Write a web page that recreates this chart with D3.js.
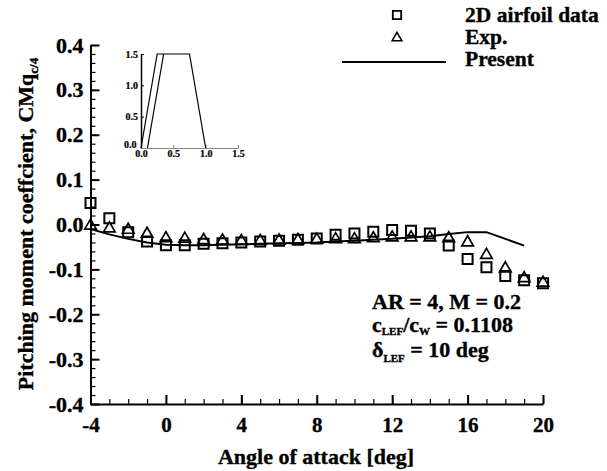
<!DOCTYPE html>
<html><head><meta charset="utf-8">
<script src="https://cdn.jsdelivr.net/npm/d3@7/dist/d3.min.js"></script>
<style>
html,body{margin:0;padding:0;background:#fff;}
text{font-family:"Liberation Serif","Times New Roman",serif;font-weight:bold;fill:#000;stroke:#000;stroke-width:0.35px;}
</style></head>
<body>
<svg id="c" width="607" height="471"></svg>
<script>
// ---- data ----
const alpha = [-4,-3,-2,-1,0,1,2,3,4,5,6,7,8,9,10,11,12,13,14,15,16,17,18,19,20];
const airfoil2D = [0.048,0.014,-0.017,-0.038,-0.046,-0.046,-0.043,-0.042,-0.040,-0.038,-0.036,-0.034,-0.031,-0.023,-0.020,-0.016,-0.012,-0.014,-0.020,-0.047,-0.077,-0.095,-0.115,-0.124,-0.131];
const expData = [-0.003,-0.009,-0.012,-0.021,-0.031,-0.032,-0.035,-0.036,-0.037,-0.037,-0.036,-0.035,-0.034,-0.033,-0.033,-0.031,-0.029,-0.029,-0.029,-0.031,-0.040,-0.068,-0.098,-0.120,-0.130];
const presentAlpha = [-4,-3,-2,-1,0,1,2,3,4,5,6,7,8,9,10,11,12,13,14,15,16,17,19];
const present = [-0.010,-0.022,-0.032,-0.040,-0.045,-0.046,-0.046,-0.045,-0.044,-0.043,-0.042,-0.041,-0.040,-0.038,-0.036,-0.034,-0.032,-0.029,-0.026,-0.021,-0.017,-0.017,-0.047];
const xTicks = [-4,0,4,8,12,16,20];
const yTicks = [-0.4,-0.3,-0.2,-0.1,0.0,0.1,0.2,0.3,0.4];
const insetX1 = [0,0.25,0.75,1.0];
const insetY1 = [0,1.5,1.5,0];
const insetX2 = [0.1,0.35];
const insetY2 = [0,1.5];
const insetTicks = [0,0.5,1.0,1.5];
const legendLabels = ["2D airfoil data","Exp.","Present"];

const svg = d3.select("#c");
const x = d3.scaleLinear().domain([-4,20]).range([90.5,543]);
const y = d3.scaleLinear().domain([-0.4,0.4]).range([404,45]);
const hy = f => (d => f(d).replace("\u2212","-"));

// minor ticks
svg.append("g").attr("transform","translate(0,404)")
  .call(d3.axisBottom(x).tickValues(d3.range(-4,21,1)).tickSize(-5).tickFormat(""))
  .call(g=>{g.select(".domain").remove(); g.selectAll("line").attr("stroke-width",1.2);});
svg.append("g").attr("transform","translate(90.5,0)")
  .call(d3.axisLeft(y).tickValues(d3.range(-20,21,1).map(v=>v*0.02)).tickSize(-5).tickFormat(""))
  .call(g=>{g.select(".domain").remove(); g.selectAll("line").attr("stroke-width",1.2);});

// major axes
const xa = svg.append("g").attr("transform","translate(0,404)")
  .call(d3.axisBottom(x).tickValues(xTicks).tickSize(-9).tickPadding(12).tickSizeOuter(0).tickFormat(hy(d3.format("d"))));
xa.select(".domain").attr("stroke-width",2);
xa.selectAll("line").attr("stroke-width",2);
xa.selectAll("text").attr("font-size",21).attr("dy","0.75em").style("font-family","Liberation Serif").style("font-weight","bold");

const ya = svg.append("g").attr("transform","translate(90.5,0)")
  .call(d3.axisLeft(y).tickValues(yTicks).tickSize(-9).tickPadding(7).tickSizeOuter(0).tickFormat(hy(d3.format(".1f"))));
ya.select(".domain").attr("stroke-width",2);
ya.selectAll("line").attr("stroke-width",2);
ya.selectAll("text").attr("font-size",22).style("font-family","Liberation Serif").style("font-weight","bold");

// axis titles
svg.append("text").attr("x",316).attr("y",464).attr("text-anchor","middle").attr("font-size",22)
  .text("Angle of attack [deg]");
const yt = svg.append("text").attr("transform","translate(33,224) rotate(-90)").attr("text-anchor","middle").attr("font-size",22);
yt.append("tspan").text("Pitching moment coeffcient, CMq");
yt.append("tspan").attr("font-size",13).attr("dy",5).text("c/4");

// present line
svg.append("path").datum(presentAlpha.map((a,i)=>[a,present[i]]))
  .attr("fill","none").attr("stroke","#000").attr("stroke-width",2)
  .attr("d",d3.line().x(d=>x(d[0])).y(d=>y(d[1])));

// markers
const sq = d3.symbol().type(d3.symbolSquare).size(100);
const tri = d3.symbol().type(d3.symbolTriangle).size(58);
svg.append("g").selectAll("path").data(alpha).join("path")
  .attr("transform",(a,i)=>`translate(${x(a)},${y(airfoil2D[i])})`).attr("d",sq())
  .attr("fill","none").attr("stroke","#000").attr("stroke-width",2);
svg.append("g").selectAll("path").data(alpha).join("path")
  .attr("transform",(a,i)=>`translate(${x(a)},${y(expData[i])})`).attr("d",tri())
  .attr("fill","none").attr("stroke","#000").attr("stroke-width",1.7);

// legend
const lg = svg.append("g");
lg.append("path").attr("transform","translate(397,15)").attr("d",d3.symbol().type(d3.symbolSquare).size(70)())
  .attr("fill","none").attr("stroke","#000").attr("stroke-width",1.8);
lg.append("path").attr("transform","translate(397,38)").attr("d",d3.symbol().type(d3.symbolTriangle).size(42)())
  .attr("fill","none").attr("stroke","#000").attr("stroke-width",1.5);
lg.append("line").attr("x1",342).attr("x2",446).attr("y1",62).attr("y2",62).attr("stroke","#000").attr("stroke-width",2);
legendLabels.forEach((t,i)=>{
  lg.append("text").attr("x",465).attr("y",22+i*22).attr("font-size",21.5).text(t);
});

// annotation
const an = svg.append("g");
an.append("text").attr("x",372).attr("y",309).attr("font-size",22).text("AR = 4, M = 0.2");
const t2 = an.append("text").attr("x",372).attr("y",332).attr("font-size",22);
t2.append("tspan").text("c");
t2.append("tspan").attr("font-size",11).attr("dy",3).text("LEF");
t2.append("tspan").attr("dy",-3).text("/c");
t2.append("tspan").attr("font-size",11).attr("dy",3).text("W");
t2.append("tspan").attr("dy",-3).text(" = 0.1108");
const t3 = an.append("text").attr("x",372).attr("y",357).attr("font-size",22);
t3.append("tspan").text("δ");
t3.append("tspan").attr("font-size",11).attr("dy",5).text("LEF");
t3.append("tspan").attr("dy",-5).text(" = 10 deg");

// inset
const ix = d3.scaleLinear().domain([0,1.5]).range([141,238]);
const iy = d3.scaleLinear().domain([0,1.5]).range([148,54]);
const ixa = svg.append("g").attr("transform","translate(0,148)")
  .call(d3.axisBottom(ix).tickValues(insetTicks).tickSize(-3).tickPadding(2).tickSizeOuter(0).tickFormat(d3.format(".1f")));
ixa.select(".domain").attr("stroke","#888").attr("stroke-width",1);
ixa.selectAll("line").attr("stroke","#888");
ixa.selectAll("text").attr("font-size",10).style("stroke-width","0.2px").style("font-family","Liberation Serif").style("font-weight","bold");
const iya = svg.append("g").attr("transform","translate(141,0)")
  .call(d3.axisLeft(iy).tickValues(insetTicks.slice(1)).tickSize(-3).tickPadding(3).tickSizeOuter(0).tickFormat(d3.format(".1f")));
iya.select(".domain").attr("stroke-width",1.5);
iya.selectAll("text").attr("font-size",10).style("stroke-width","0.2px").style("font-family","Liberation Serif").style("font-weight","bold");
svg.append("text").attr("x",124).attr("y",148).attr("font-size",10).style("stroke-width","0.2px").text("0.0");
svg.append("path").datum(insetX1.map((v,i)=>[v,insetY1[i]]))
  .attr("fill","none").attr("stroke","#000").attr("stroke-width",1.2)
  .attr("d",d3.line().x(d=>ix(d[0])).y(d=>iy(d[1])));
svg.append("path").datum(insetX2.map((v,i)=>[v,insetY2[i]]))
  .attr("fill","none").attr("stroke","#000").attr("stroke-width",1.2)
  .attr("d",d3.line().x(d=>ix(d[0])).y(d=>iy(d[1])));
</script>
</body></html>
